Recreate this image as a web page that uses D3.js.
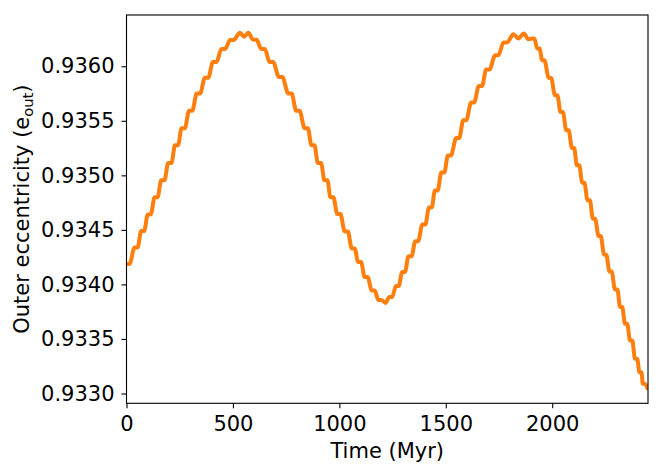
<!DOCTYPE html>
<html>
<head>
<meta charset="utf-8">
<script src="https://cdn.jsdelivr.net/npm/d3@7"></script>
<style>
  body { margin: 0; background: #fff; }
  svg { display: block; font-family: "DejaVu Sans", sans-serif; }
</style>
</head>
<body>
<svg id="chart" width="664" height="473"></svg>
<script>
// plateaus of the stepped curve:
// start time, end time (Myr) and the outer eccentricity on that plateau
const tStart = [0, 38, 69, 100, 132, 163, 196, 228, 259, 294, 330, 368, 406, 446, 487, 533, 553, 572, 595, 633,
  672, 716, 760, 797, 837, 869, 899, 930, 958, 990, 1025, 1058, 1088, 1119, 1152, 1183, 1217, 1235, 1266, 1295,
  1325, 1357, 1390, 1421, 1449, 1479, 1510, 1549, 1582, 1619, 1655, 1690, 1732, 1771, 1818, 1841, 1867, 1888, 1906, 1930,
  1953, 1984, 2013, 2039, 2066, 2093, 2116, 2141, 2166, 2191, 2218, 2244, 2269, 2295, 2319, 2342, 2366, 2389, 2410, 2426, 2450];
const tEnd = [14, 52, 83, 114, 146, 178, 211, 242, 274, 309, 346, 384, 423, 463, 503, 533, 553, 572, 611, 650,
  689, 732, 776, 813, 852, 883, 914, 944, 972, 1005, 1040, 1072, 1102, 1133, 1166, 1197, 1217, 1248, 1279, 1308,
  1339, 1370, 1404, 1434, 1462, 1493, 1524, 1563, 1596, 1633, 1670, 1705, 1747, 1787, 1818, 1841, 1867, 1888, 1916, 1940,
  1963, 1995, 2024, 2050, 2077, 2103, 2127, 2151, 2177, 2201, 2228, 2254, 2279, 2306, 2329, 2352, 2376, 2399, 2419, 2434, 2450];
const eOut = [0.934186, 0.934339, 0.934489, 0.934642, 0.934798, 0.934954, 0.935113, 0.935275, 0.935431, 0.935592,
  0.935750, 0.935894, 0.936039, 0.936159, 0.936241, 0.936307, 0.936271, 0.936307, 0.936243, 0.936159,
  0.936039, 0.935902, 0.935750, 0.935592, 0.935431, 0.935275, 0.935113, 0.934954, 0.934798, 0.934645,
  0.934486, 0.934330, 0.934205, 0.934067, 0.933945, 0.933858, 0.933830, 0.933884, 0.933986, 0.934113,
  0.934259, 0.934396, 0.934550, 0.934706, 0.934862, 0.935025, 0.935183, 0.935342, 0.935505, 0.935667,
  0.935819, 0.935970, 0.936101, 0.936217, 0.936294, 0.936254, 0.936300, 0.936248, 0.936254, 0.936162,
  0.936055, 0.935893, 0.935734, 0.935581, 0.935413, 0.935250, 0.935092, 0.934933, 0.934771, 0.934603,
  0.934443, 0.934272, 0.934119, 0.933954, 0.933792, 0.933639, 0.933486, 0.933318, 0.933195, 0.933089, 0.933035];

const xTicks = [0, 500, 1000, 1500, 2000];
const yTicks = [0.9330, 0.9335, 0.9340, 0.9345, 0.9350, 0.9355, 0.9360];
const xDomain = [0, 2450];
const yDomain = [0.932910, 0.936470];

const plot = { left: 126.5, right: 648, top: 15, bottom: 403.3 };
const FONT = 21;

const svg = d3.select("#chart");

const x = d3.scaleLinear().domain(xDomain).range([plot.left, plot.right]);
const y = d3.scaleLinear().domain(yDomain).range([plot.bottom, plot.top]);

// line points: both ends of every plateau (single point where start == end)
const points = [];
eOut.forEach((e, i) => {
  points.push([tStart[i], e]);
  if (tEnd[i] > tStart[i]) points.push([tEnd[i], e]);
});

svg.append("clipPath").attr("id", "plot-clip")
  .append("rect")
  .attr("x", plot.left).attr("y", plot.top)
  .attr("width", plot.right - plot.left).attr("height", plot.bottom - plot.top);

const line = d3.line()
  .x(d => x(d[0]))
  .y(d => y(d[1]))
  .curve(d3.curveMonotoneX);

svg.append("path")
  .datum(points)
  .attr("clip-path", "url(#plot-clip)")
  .attr("fill", "none")
  .attr("stroke", "#ff7f0e")
  .attr("stroke-width", 4)
  .attr("stroke-linejoin", "round")
  .attr("stroke-linecap", "butt")
  .attr("d", line);

// axes
const xAxis = d3.axisBottom(x).tickValues(xTicks).tickFormat(d3.format("d"))
  .tickSize(5).tickSizeOuter(0).tickPadding(7.5);
const yAxis = d3.axisLeft(y).tickValues(yTicks).tickFormat(d3.format(".4f"))
  .tickSize(5).tickSizeOuter(0).tickPadding(7);

const gx = svg.append("g").attr("transform", `translate(0,${plot.bottom})`).call(xAxis);
const gy = svg.append("g").attr("transform", `translate(${plot.left},0)`).call(yAxis);

[gx, gy].forEach(g => {
  g.select(".domain").remove();
  g.selectAll(".tick line").attr("stroke", "#000").attr("stroke-width", 1.1);
  g.selectAll(".tick text")
    .attr("fill", "#000")
    .style("font-size", FONT + "px")
    .style("font-family", '"DejaVu Sans", sans-serif');
});

// frame (all four spines)
svg.append("rect")
  .attr("x", plot.left).attr("y", plot.top)
  .attr("width", plot.right - plot.left).attr("height", plot.bottom - plot.top)
  .attr("fill", "none")
  .attr("stroke", "#000")
  .attr("stroke-width", 1.1);

// axis titles
svg.append("text")
  .attr("x", (plot.left + plot.right) / 2)
  .attr("y", 457.7)
  .attr("text-anchor", "middle")
  .style("font-size", FONT + "px")
  .attr("fill", "#000")
  .text("Time (Myr)");

const yl = svg.append("text")
  .attr("transform", `translate(28.5,${(plot.top + plot.bottom) / 2}) rotate(-90)`)
  .attr("text-anchor", "middle")
  .style("font-size", FONT + "px")
  .attr("fill", "#000");
yl.append("tspan").text("Outer eccentricity (e");
yl.append("tspan").attr("dy", 4.5).style("font-size", (FONT * 0.7) + "px").text("out");
yl.append("tspan").attr("dy", -4.5).text(")");
</script>
</body>
</html>
